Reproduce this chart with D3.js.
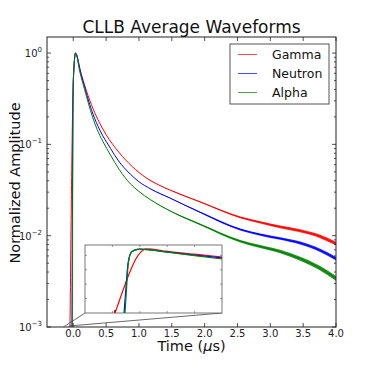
<!DOCTYPE html>
<html>
<head>
<meta charset="utf-8">
<script src="https://cdn.jsdelivr.net/npm/d3@7"></script>
<style>
  body { margin: 0; background: #fff; }
  svg { font-family: "DejaVu Sans", sans-serif; }
</style>
</head>
<body>
<script>
// series (time in us, normalized amplitude)
const seriesNames = ["Gamma", "Neutron", "Alpha"];
const seriesColors = ["#ff0000", "#0000ff", "#008000"];

const gammaT = [-0.05, 0.0, 0.035, 0.1, 0.2, 0.3, 0.4, 0.5, 0.7, 0.9, 1.1, 1.3, 1.479, 1.935, 2.543, 2.847, 3.151, 3.455, 3.759, 4.0];
const gammaV = [0.001, 0.45, 1.0, 0.67, 0.387, 0.247, 0.172, 0.128, 0.081, 0.057, 0.0435, 0.036, 0.0315, 0.0234, 0.0159, 0.014, 0.0125, 0.0113, 0.0098, 0.0082];

const neutronT = [-0.02, 0.0, 0.035, 0.12, 0.2, 0.3, 0.404, 0.567, 0.681, 0.869, 1.0, 1.175, 1.479, 1.935, 2.543, 2.847, 3.151, 3.455, 3.759, 4.0];
const neutronV = [0.001, 0.5, 1.0, 0.58, 0.36, 0.215, 0.1436, 0.0904, 0.0672, 0.0472, 0.039, 0.0326, 0.0257, 0.018, 0.0117, 0.0103, 0.0093, 0.0083, 0.0069, 0.0056];

const alphaT = [-0.015, 0.0, 0.035, 0.1, 0.172, 0.228, 0.298, 0.365, 0.45, 0.567, 0.7, 0.869, 1.0, 1.175, 1.479, 1.935, 2.543, 2.847, 3.151, 3.455, 3.759, 4.0];
const alphaV = [0.001, 0.5, 1.0, 0.62, 0.4, 0.285, 0.195, 0.145, 0.108, 0.0763, 0.053, 0.037, 0.0305, 0.0248, 0.0186, 0.0133, 0.0087, 0.0076, 0.0067, 0.0056, 0.0044, 0.0034];

// inset: rising edge (time in ns, amplitude in inset units)
const insetGammaT = [-58.1, -56.9, -41.1, -37.5, -35, -20, 0, 20];
const insetGammaV = [0, 0.08, 1.006, 1.093, 1.115, 1.07, 1.02, 0.972];
const insetNeutronT = [-51.5, -49.6, -48.6, -46, -42, -39.9, -20, 0, 20];
const insetNeutronV = [0, 0.6, 0.86, 1.06, 1.105, 1.11, 1.06, 1.005, 0.955];
const insetAlphaT = [-50.8, -49.6, -48.4, -45.9, -41.1, -39.9, -20, 0, 20];
const insetAlphaV = [0, 0.45, 0.862, 1.064, 1.105, 1.11, 1.055, 0.995, 0.937];

const xTicks = [0, 0.5, 1.0, 1.5, 2.0, 2.5, 3.0, 3.5, 4.0];
const yTickExps = [-3, -2, -1, 0];
const insetXTicks = [-60, -40, -20, 0];
const insetYTicks = [0.25, 0.5, 0.75, 1.0];
// zoomed region marked on the main axes (us)
const zoomBox = [-0.15, -0.07];

const W = 374, H = 374;
const margin = { left: 47, right: 38, top: 37, bottom: 47 };
const width = W - margin.left - margin.right,
  height = H - margin.top - margin.bottom;

const svg = d3.select("body").append("svg").attr("width", W).attr("height", H);
const g = svg.append("g").attr("transform", `translate(${margin.left},${margin.top})`);

const xScale = d3.scaleLinear().domain([-0.4, 4.0]).range([0, width]);
const yScale = d3.scaleLog().domain([1e-3, 1.5]).range([height, 0]);

svg.append("defs").append("clipPath").attr("id", "clip")
  .append("rect").attr("width", width).attr("height", height);

const mainData = [
  d3.zip(gammaT, gammaV),
  d3.zip(neutronT, neutronV),
  d3.zip(alphaT, alphaV),
];

const line = d3.line()
  .x((d) => xScale(d[0]))
  .y((d) => yScale(d[1]))
  .curve(d3.curveMonotoneX);

// the tail of each average gets noisier: draw it as a band that widens with time
const noiseGain = [0.6, 0.6, 0.8];
const plot = g.append("g").attr("clip-path", "url(#clip)");
mainData.forEach((pts, i) => {
  const half = (d) => Math.max(0, d[0] - 1.0) * noiseGain[i];
  const band = d3.area()
    .x((d) => xScale(d[0]))
    .y0((d) => yScale(d[1]) + half(d))
    .y1((d) => yScale(d[1]) - half(d))
    .curve(d3.curveMonotoneX);
  plot.append("path").attr("d", band(pts.filter((d) => d[0] >= 0.8)))
    .attr("fill", seriesColors[i]).attr("fill-opacity", 0.85);
  plot.append("path").attr("d", line(pts))
    .attr("fill", "none").attr("stroke", seriesColors[i]).attr("stroke-width", 1);
});

// ticks (inside, on all four sides)
const tickCol = "#222";
function vTick(x, y, len) {
  g.append("line").attr("x1", x).attr("x2", x).attr("y1", y).attr("y2", y + len)
    .attr("stroke", tickCol).attr("stroke-width", 0.8);
}
function hTick(x, y, len) {
  g.append("line").attr("x1", x).attr("x2", x + len).attr("y1", y).attr("y2", y)
    .attr("stroke", tickCol).attr("stroke-width", 0.8);
}
xTicks.forEach((t) => {
  vTick(xScale(t), height, -4);
  vTick(xScale(t), 0, 4);
  g.append("text").attr("x", xScale(t)).attr("y", height + 10)
    .attr("text-anchor", "middle").attr("font-size", 10).attr("fill", tickCol)
    .text(d3.format(".1f")(t));
});
yTickExps.forEach((e) => {
  const y = yScale(Math.pow(10, e));
  hTick(0, y, 4);
  hTick(width, y, -4);
  const t = g.append("text").attr("x", -5).attr("y", y + 4)
    .attr("text-anchor", "end").attr("font-size", 10).attr("fill", tickCol);
  t.append("tspan").text("10");
  t.append("tspan").attr("dy", -5).attr("font-size", 7).text(e < 0 ? "\u2212" + -e : e);
  for (let m = 2; m <= 9; m++) {
    const v = m * Math.pow(10, e);
    if (v > 1.5) break;
    hTick(0, yScale(v), 2);
    hTick(width, yScale(v), -2);
  }
});

g.append("rect").attr("width", width).attr("height", height)
  .attr("fill", "none").attr("stroke", "#222").attr("stroke-width", 1);

// title and axis labels
svg.append("text").attr("x", margin.left + width / 2).attr("y", 33)
  .attr("text-anchor", "middle").attr("font-size", 17).attr("fill", "#111")
  .text("CLLB Average Waveforms");
const xl = svg.append("text").attr("x", margin.left + width / 2).attr("y", 350.5)
  .attr("text-anchor", "middle").attr("font-size", 14.5).attr("fill", "#111");
xl.append("tspan").text("Time (");
xl.append("tspan").attr("font-style", "italic").text("\u03bc");
xl.append("tspan").text("s)");
svg.append("text")
  .attr("transform", `translate(19.5,${margin.top + height / 2 + 1}) rotate(-90)`)
  .attr("text-anchor", "middle").attr("font-size", 14.5).attr("fill", "#111")
  .text("Normalized Amplitude");

// legend
const leg = g.append("g").attr("transform", `translate(${width - 106},7)`);
leg.append("rect").attr("width", 99).attr("height", 60)
  .attr("fill", "#fff").attr("stroke", "#555").attr("stroke-width", 1);
seriesNames.forEach((name, i) => {
  const y = 10.5 + i * 19;
  leg.append("line").attr("x1", 8).attr("x2", 27).attr("y1", y).attr("y2", y)
    .attr("stroke", seriesColors[i]).attr("stroke-width", 1).attr("stroke-opacity", 0.7);
  leg.append("text").attr("x", 42).attr("y", y + 4.5)
    .attr("font-size", 12.5).attr("fill", "#111").text(name);
});

// inset
const ix0 = 38, iy0 = 208, iw = 137, ih = 68;
const insetX = d3.scaleLinear().domain([-80, 20]).range([0, iw]);
const insetY = d3.scaleLinear().domain([0, 1.18]).range([ih, 0]);

// connector lines to the zoomed region
const bx = [xScale(zoomBox[0]), xScale(zoomBox[1])], by = yScale(1e-3);
g.append("line").attr("x1", bx[0]).attr("y1", by).attr("x2", ix0).attr("y2", iy0 + ih)
  .attr("stroke", "#444").attr("stroke-width", 0.8);
g.append("line").attr("x1", bx[1]).attr("y1", by - 1).attr("x2", ix0 + iw).attr("y2", iy0 + ih)
  .attr("stroke", "#444").attr("stroke-width", 0.8);

const ins = g.append("g").attr("transform", `translate(${ix0},${iy0})`);
ins.append("rect").attr("width", iw).attr("height", ih).attr("fill", "#fff");
svg.select("defs").append("clipPath").attr("id", "iclip")
  .append("rect").attr("width", iw).attr("height", ih);
const insetLine = d3.line()
  .x((d) => insetX(d[0]))
  .y((d) => insetY(d[1]))
  .curve(d3.curveMonotoneX);
const insetData = [
  d3.zip(insetGammaT, insetGammaV),
  d3.zip(insetNeutronT, insetNeutronV),
  d3.zip(insetAlphaT, insetAlphaV),
];
const ip = ins.append("g").attr("clip-path", "url(#iclip)");
insetData.forEach((pts, i) => {
  ip.append("path").attr("d", insetLine(pts))
    .attr("fill", "none").attr("stroke", seriesColors[i]).attr("stroke-width", 1.2);
});
// start marker of the gamma edge
ins.append("rect")
  .attr("x", insetX(insetGammaT[0]) - 1).attr("y", insetY(insetGammaV[0]) - 3)
  .attr("width", 2).attr("height", 3).attr("fill", seriesColors[0]);
insetXTicks.forEach((t) => {
  ins.append("line").attr("x1", insetX(t)).attr("x2", insetX(t)).attr("y1", 0).attr("y2", 2)
    .attr("stroke", "#555").attr("stroke-width", 0.6);
  ins.append("line").attr("x1", insetX(t)).attr("x2", insetX(t)).attr("y1", ih).attr("y2", ih - 2)
    .attr("stroke", "#555").attr("stroke-width", 0.6);
});
insetYTicks.forEach((v) => {
  ins.append("line").attr("x1", 0).attr("x2", 2).attr("y1", insetY(v)).attr("y2", insetY(v))
    .attr("stroke", "#555").attr("stroke-width", 0.6);
  ins.append("line").attr("x1", iw).attr("x2", iw - 2).attr("y1", insetY(v)).attr("y2", insetY(v))
    .attr("stroke", "#555").attr("stroke-width", 0.6);
});
ins.append("rect").attr("width", iw).attr("height", ih)
  .attr("fill", "none").attr("stroke", "#555").attr("stroke-width", 0.8);
</script>
</body>
</html>
